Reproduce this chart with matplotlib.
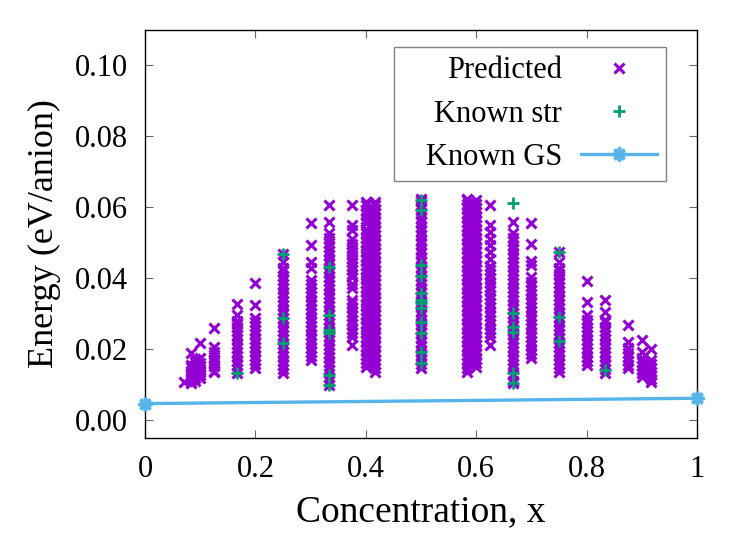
import numpy as np
import matplotlib.pyplot as plt

plt.rcParams['font.family'] = ['Liberation Serif', 'DejaVu Serif']

# concentrations of the predicted columns
pred_x = [0.0714, 0.0833, 0.0909, 0.1, 0.125, 0.1667, 0.2, 0.25, 0.3, 0.3333,
          0.375, 0.4, 0.4167, 0.5, 0.5833, 0.6, 0.625, 0.6667, 0.7, 0.75,
          0.8, 0.8333, 0.875, 0.9, 0.9167]

# energies of predicted structures, meV/anion
pred_y = [
    [10.7],
    [10.4, 11.3, 12.2, 13.1, 14.0, 14.9, 15.6, 18.9],
    [11.0, 11.9, 12.8, 13.7, 14.6, 15.5, 16.3, 17.2],
    [11.8, 12.7, 13.6, 14.5, 15.4, 16.2, 17.5, 21.7],
    [13.5, 14.0, 15.2, 16.3, 17.0, 17.8, 19.2, 20.6, 26.0],
    [13.2, 14.4, 15.6, 16.8, 18.0, 19.2, 20.4, 21.6, 22.8, 24.0, 25.2, 26.4,
     27.2, 28.0, 29.6, 32.7],
    [14.6, 15.8, 17.0, 18.2, 19.4, 20.6, 21.8, 23.0, 24.2, 25.4, 26.6, 27.8,
     28.7, 32.4, 38.6],
    [13.2, 14.4, 15.6, 16.8, 18.0, 19.2, 20.4, 21.6, 22.8, 24.0, 25.2, 26.4,
     27.6, 28.8, 30.0, 31.2, 32.4, 33.6, 34.8, 36.0, 37.2, 38.4, 39.6, 40.8,
     42.0, 43.0, 44.5, 47.0],
    [16.9, 18.1, 19.3, 20.5, 21.7, 22.9, 24.1, 25.3, 26.5, 27.7, 28.9, 30.1,
     31.3, 32.5, 33.7, 34.9, 36.1, 37.3, 38.5, 39.4, 43.0, 44.5, 49.3, 55.5],
    [9.9, 11.0, 12.3, 14.1, 15.3, 16.5, 17.7, 18.9, 20.1, 21.3, 22.5, 23.7,
     24.9, 26.1, 27.3, 28.5, 29.7, 30.9, 32.1, 33.3, 34.5, 35.7, 36.9, 38.1,
     39.3, 40.5, 41.7, 42.9, 44.1, 45.3, 46.5, 47.7, 48.9, 50.1, 51.3, 52.7,
     55.8, 60.8],
    [21.1, 23.4, 24.6, 25.8, 27.0, 28.2, 29.4, 30.6, 31.8, 33.0, 33.8, 37.2,
     38.5, 40.3, 41.3, 42.3, 43.4, 44.5, 45.5, 46.5, 47.4, 48.4, 49.8, 51.0,
     53.5, 55.0, 60.6],
    [14.9, 16.0, 17.4, 18.5, 19.9, 21.0, 22.4, 23.6, 24.9, 26.2, 27.4, 28.7,
     30.0, 31.2, 32.5, 33.8, 35.0, 36.3, 37.6, 38.8, 40.1, 41.4, 42.6, 43.9,
     45.2, 46.4, 47.7, 49.0, 50.2, 51.5, 52.8, 53.9, 55.5, 56.8, 58.0, 59.3,
     60.6, 61.5],
    [13.5, 14.6, 15.9, 17.1, 18.4, 19.6, 20.9, 22.1, 23.4, 24.6, 25.9, 27.1,
     28.4, 29.6, 30.9, 32.1, 33.4, 34.6, 35.9, 37.1, 38.4, 39.6, 40.9, 42.1,
     43.4, 44.6, 45.9, 47.1, 48.4, 49.6, 50.9, 52.1, 53.4, 54.6, 55.9, 57.1,
     58.4, 59.6, 60.6, 61.5],
    [14.6, 15.8, 17.1, 18.3, 19.6, 20.8, 22.1, 23.3, 24.6, 25.8, 27.1, 28.3,
     29.6, 30.8, 32.1, 33.3, 34.6, 35.8, 37.1, 38.3, 39.6, 40.8, 42.1, 43.3,
     44.6, 45.8, 47.1, 48.3, 49.6, 50.8, 52.1, 53.3, 54.6, 55.8, 57.1, 58.3,
     59.6, 60.8, 61.7, 62.5],
    [13.5, 14.7, 16.0, 17.2, 18.5, 19.7, 21.0, 22.2, 23.5, 24.7, 26.0, 27.2,
     28.5, 29.7, 31.0, 32.2, 33.5, 34.7, 36.0, 37.2, 38.5, 39.7, 41.0, 42.2,
     43.5, 44.7, 46.0, 47.2, 48.5, 49.7, 51.0, 52.2, 53.5, 54.7, 56.0, 57.2,
     58.5, 59.7, 61.0, 62.0, 62.5],
    [14.9, 16.1, 17.4, 18.6, 19.9, 21.1, 22.4, 23.6, 24.9, 26.1, 27.4, 28.6,
     29.9, 31.1, 32.4, 33.6, 34.9, 36.1, 37.4, 38.6, 39.9, 41.1, 42.4, 43.6,
     44.9, 46.1, 47.4, 48.6, 49.9, 51.1, 52.4, 53.6, 54.9, 56.1, 57.4, 58.6,
     59.9, 61.0, 62.0],
    [21.1, 23.4, 24.6, 25.8, 27.0, 28.2, 29.4, 30.6, 31.8, 33.0, 34.2, 35.4,
     36.6, 37.5, 38.6, 40.0, 41.2, 42.3, 43.6, 45.5, 47.5, 49.3, 51.0, 53.0,
     55.0, 60.6],
    [10.4, 11.2, 13.0, 14.6, 15.8, 17.0, 18.2, 19.4, 20.6, 21.8, 23.0, 24.2,
     25.4, 26.6, 27.8, 29.0, 30.2, 31.4, 32.6, 33.8, 35.0, 36.2, 37.4, 38.6,
     39.8, 41.0, 42.2, 43.4, 44.6, 45.8, 47.0, 48.2, 49.4, 50.6, 51.5, 52.7,
     56.0],
    [17.5, 18.7, 19.9, 21.1, 22.3, 23.5, 24.7, 25.9, 27.1, 28.3, 29.5, 30.7,
     31.9, 33.1, 34.3, 35.5, 36.7, 37.9, 39.1, 40.3, 43.7, 45.0, 49.8, 55.5],
    [13.5, 14.7, 15.9, 17.1, 18.3, 19.5, 20.7, 21.9, 23.1, 24.3, 25.5, 26.7,
     27.9, 29.1, 30.3, 31.5, 32.7, 33.9, 35.1, 36.3, 37.5, 38.7, 39.9, 41.1,
     42.3, 43.0, 44.5, 47.3],
    [15.5, 16.7, 17.9, 19.1, 20.3, 21.5, 22.7, 23.9, 25.1, 26.3, 27.5, 28.2,
     29.6, 33.3, 39.2],
    [13.2, 14.4, 15.6, 16.8, 18.0, 19.2, 20.4, 21.6, 22.8, 24.0, 25.2, 26.4,
     27.6, 28.2, 30.4, 33.8],
    [14.6, 15.6, 16.6, 17.8, 19.0, 20.3, 22.0, 26.8],
    [12.1, 13.2, 14.3, 15.4, 16.5, 17.6, 19.2, 22.5],
    [10.7, 11.7, 12.7, 13.7, 14.7, 15.8, 16.9, 20.0],
]

# known structures, meV/anion
known_x = [0.1667, 0.25, 0.3333, 0.5, 0.6667, 0.75, 0.8333]
known_y = [
    [13.3],
    [47.0, 28.7, 21.7],
    [43.1, 29.6, 25.4, 24.5, 12.7, 9.9],
    [62.2, 59.2, 43.7, 40.8, 36.0, 33.8, 33.0, 31.5, 27.6, 24.5, 19.2, 16.0],
    [61.1, 30.1, 26.2, 24.8, 13.2, 10.4],
    [47.3, 29.0, 22.3],
    [14.1],
]

# known ground states, eV/anion
gs_x = [0.0, 1.0]
gs_y = [0.0047, 0.0062]

fig = plt.figure(figsize=(7.47, 5.34), dpi=100)
ax = fig.add_axes([0.1941, 0.1798, 0.739, 0.764])

px = np.concatenate([np.full(len(ys), x) for x, ys in zip(pred_x, pred_y)])
py = np.concatenate(pred_y) / 1000.0
kx = np.concatenate([np.full(len(ys), x) for x, ys in zip(known_x, known_y)])
ky = np.concatenate(known_y) / 1000.0

ax.plot(px, py, ls='none', marker='x', ms=7.5, mew=2.2, color='#9400d3',
        label='Predicted')
ax.plot(kx, ky, ls='none', marker='+', ms=8, mew=2.0, color='#009e73',
        label='Known str')
ax.plot(gs_x, gs_y, color='#56b4e9', lw=2.4, marker=(8, 2, 0), ms=10, mew=2.5,
        label='   Known GS', clip_on=False, zorder=5)

ax.set_xlim(0, 1)
ax.set_ylim(-0.005, 0.11)
ax.set_xticks([0, 0.2, 0.4, 0.6, 0.8, 1])
ax.set_xticklabels(['0', '0.2', '0.4', '0.6', '0.8', '1'])
ax.set_yticks([0, 0.02, 0.04, 0.06, 0.08, 0.10])
ax.set_yticklabels(['0.00', '0.02', '0.04', '0.06', '0.08', '0.10'])
ax.tick_params(direction='in', top=True, right=True, length=6, width=0.8,
               color='#666666', labelsize=22, pad=12)
for s in ax.spines.values():
    s.set_linewidth(1.0)

ax.set_xlabel('Concentration, x', fontsize=27, labelpad=8)
ax.set_ylabel('Energy (eV/anion)', fontsize=26, labelpad=10)

leg = ax.legend(loc='upper right', bbox_to_anchor=(0.944, 0.958),
                borderaxespad=0, markerfirst=False, fontsize=22,
                fancybox=False, edgecolor='#808080', framealpha=1,
                handlelength=2.5, handletextpad=0.6, labelspacing=0.47,
                borderpad=0.3)
leg.get_frame().set_linewidth(1.0)

fig.savefig('out.png', dpi=100)
